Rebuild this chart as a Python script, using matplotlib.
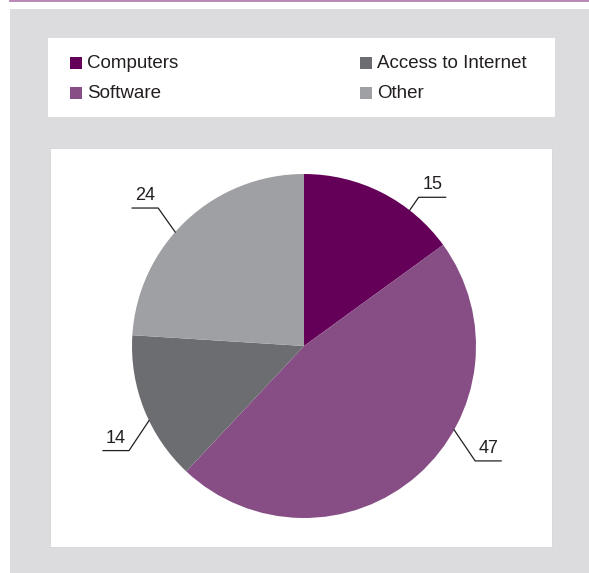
import numpy as np
import matplotlib
matplotlib.use("Agg")
import matplotlib.pyplot as plt
from matplotlib.patches import Rectangle
from matplotlib.lines import Line2D

plt.rcParams['font.family'] = ['Liberation Sans Narrow', 'Liberation Sans', 'DejaVu Sans']

# data
categories = ['Computers', 'Software', 'Access to Internet', 'Other']
values = [15, 47, 14, 24]
colors = ['#650059', '#874e86', '#6c6d70', '#9fa0a4']

# label leader layout: edge angle (deg), elbow offset (px), horizontal run (px)
label_angle = [52.1, -29.2, 205.7, 138.5]
label_elbow = [(9, 13), (21, -31), (-20, -30), (-17, 24)]
label_run = [27, 26, -26, -26]

W, H = 589, 573
fig = plt.figure(figsize=(W / 100, H / 100), dpi=100)
fig.patch.set_facecolor('white')

def px_rect(x0, y0, x1, y1, **kw):
    # rectangle given in pixel coords measured from top-left
    return Rectangle((x0 / W, 1 - y1 / H), (x1 - x0) / W, (y1 - y0) / H,
                     transform=fig.transFigure, **kw)

fig.patches.append(px_rect(10, 9, W, H, facecolor='#dcdcde', edgecolor='none', zorder=-10))
fig.patches.append(px_rect(48, 38, 555, 117, facecolor='white', edgecolor='none', zorder=-9))
fig.patches.append(px_rect(50, 148, 552, 547, facecolor='white', edgecolor='#d0d0d2',
                           linewidth=0.5, zorder=-9))
fig.lines.append(Line2D([10 / W, 1], [1 - 0.8 / H, 1 - 0.8 / H], transform=fig.transFigure,
                        color='#b27db0', linewidth=1.3))

# legend (manual, two columns)
col_x = [70, 360]
row_y = [63, 93]
for i, name in enumerate(categories):
    lx = col_x[i // 2]
    ly = row_y[i % 2]
    fig.patches.append(px_rect(lx, ly - 6, lx + 12, ly + 6, facecolor=colors[i], edgecolor='none'))
    fig.text((lx + 17) / W, 1 - (ly + 1) / H, name, fontsize=13.5, color='#231f20',
             va='center', ha='left')

# pie
cx, cy, r = 304, 346, 172
ax = fig.add_axes([(cx - r) / W, (H - cy - r) / H, 2 * r / W, 2 * r / H])
ax.pie(values, colors=colors, startangle=90, counterclock=False,
       wedgeprops=dict(linewidth=0))
ax.set_xlim(-1, 1)
ax.set_ylim(-1, 1)
ax.set_aspect('equal')
ax.axis('off')

for v, ang, (ex, ey), run in zip(values, label_angle, label_elbow, label_run):
    a = np.deg2rad(ang)
    x0, y0 = np.cos(a), np.sin(a)
    x1, y1 = x0 + ex / r, y0 + ey / r
    x2 = x1 + run / r
    ax.plot([x0, x1, x2], [y0, y1, y1], color='#231f20', linewidth=0.9, clip_on=False)
    ax.text((x1 + x2) / 2, y1 + 4 / r, str(v), fontsize=13, color='#231f20',
            ha='center', va='bottom')

fig.savefig('out.png', dpi=100, facecolor='white')
